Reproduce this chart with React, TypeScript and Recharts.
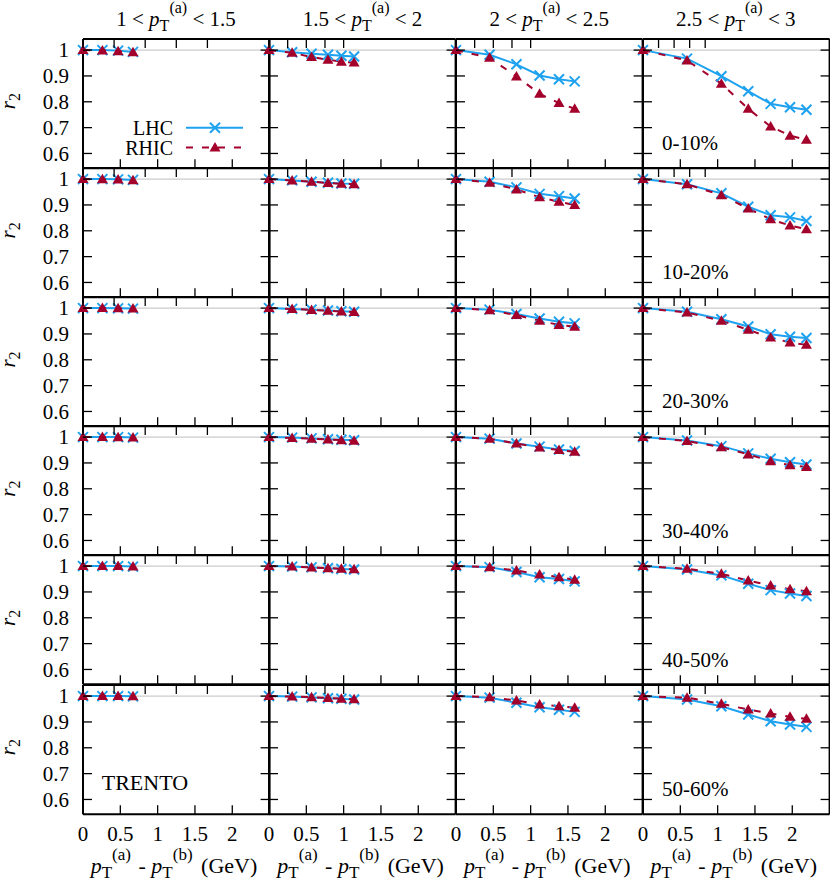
import React from "react";
import { LineChart, Line, XAxis, YAxis, ReferenceLine, Legend } from "recharts";

const PT_BINS = [
  ["1", "1.5"],
  ["1.5", "2"],
  ["2", "2.5"],
  ["2.5", "3"],
];
const CENTRALITY = ["0-10%", "10-20%", "20-30%", "30-40%", "40-50%", "50-60%"];
const X_TICKS = [0, 0.5, 1, 1.5, 2];
const X_TICK_LABELS = ["0", "0.5", "1", "1.5", "2"];
const Y_TICKS = [0.6, 0.7, 0.8, 0.9, 1];
const Y_TICK_LABELS = ["0.6", "0.7", "0.8", "0.9", "1"];

// pT(a) - pT(b) points, one list per pT(a) bin (column)
const DPT = [
  [0, 0.26, 0.47, 0.67],
  [0, 0.31, 0.57, 0.79, 0.97, 1.14],
  [0, 0.45, 0.81, 1.12, 1.38, 1.59],
  [0, 0.59, 1.05, 1.41, 1.71, 1.97, 2.19],
];

const LHC_0_10 = [
  [1, 1, 0.998, 0.993],
  [1, 0.992, 0.986, 0.982, 0.978, 0.975],
  [1, 0.982, 0.945, 0.902, 0.887, 0.879],
  [1, 0.967, 0.899, 0.841, 0.792, 0.779, 0.769],
];
const RHIC_0_10 = [
  [1, 0.998, 0.996, 0.992],
  [1, 0.99, 0.973, 0.963, 0.955, 0.952],
  [1, 0.97, 0.898, 0.831, 0.795, 0.773],
  [1, 0.96, 0.87, 0.773, 0.704, 0.669, 0.653],
];
const LHC_10_20 = [
  [1, 1, 0.999, 0.997],
  [1, 0.995, 0.99, 0.986, 0.983, 0.982],
  [1, 0.99, 0.968, 0.943, 0.934, 0.925],
  [1, 0.98, 0.945, 0.893, 0.86, 0.852, 0.838],
];
const RHIC_10_20 = [
  [1, 0.999, 0.998, 0.996],
  [1, 0.995, 0.99, 0.985, 0.982, 0.98],
  [1, 0.986, 0.96, 0.93, 0.912, 0.9],
  [1, 0.98, 0.938, 0.886, 0.845, 0.82, 0.806],
];
const LHC_20_30 = [
  [1, 1, 0.999, 0.998],
  [1, 0.997, 0.994, 0.991, 0.988, 0.986],
  [1, 0.994, 0.977, 0.96, 0.947, 0.941],
  [1, 0.986, 0.957, 0.929, 0.899, 0.889, 0.884],
];
const RHIC_20_30 = [
  [1, 1, 0.999, 0.998],
  [1, 0.997, 0.993, 0.99, 0.987, 0.985],
  [1, 0.992, 0.973, 0.951, 0.935, 0.928],
  [1, 0.983, 0.951, 0.916, 0.886, 0.867, 0.858],
];
const LHC_30_40 = [
  [1, 1, 1, 0.998],
  [1, 0.998, 0.995, 0.992, 0.99, 0.988],
  [1, 0.994, 0.975, 0.963, 0.952, 0.946],
  [1, 0.987, 0.965, 0.937, 0.916, 0.903, 0.894],
];
const RHIC_30_40 = [
  [1, 1, 0.999, 0.998],
  [1, 0.997, 0.994, 0.991, 0.988, 0.986],
  [1, 0.994, 0.975, 0.96, 0.95, 0.943],
  [1, 0.985, 0.961, 0.933, 0.907, 0.891, 0.884],
];
const LHC_40_50 = [
  [1, 1, 1, 0.998],
  [1, 0.998, 0.995, 0.992, 0.989, 0.987],
  [1, 0.996, 0.977, 0.957, 0.95, 0.941],
  [1, 0.987, 0.964, 0.932, 0.907, 0.894, 0.884],
];
const RHIC_40_50 = [
  [1, 1, 1, 0.998],
  [1, 0.998, 0.995, 0.992, 0.99, 0.988],
  [1, 0.996, 0.983, 0.968, 0.957, 0.947],
  [1, 0.99, 0.97, 0.944, 0.925, 0.91, 0.903],
];
const LHC_50_60 = [
  [1, 1, 1, 0.999],
  [1, 0.998, 0.995, 0.992, 0.99, 0.987],
  [1, 0.994, 0.974, 0.957, 0.947, 0.939],
  [1, 0.987, 0.961, 0.929, 0.903, 0.89, 0.881],
];
const RHIC_50_60 = [
  [1, 1, 1, 0.999],
  [1, 0.998, 0.996, 0.993, 0.99, 0.988],
  [1, 0.996, 0.983, 0.968, 0.961, 0.955],
  [1, 0.994, 0.97, 0.948, 0.933, 0.92, 0.912],
];

const LHC = [LHC_0_10, LHC_10_20, LHC_20_30, LHC_30_40, LHC_40_50, LHC_50_60];
const RHIC = [RHIC_0_10, RHIC_10_20, RHIC_20_30, RHIC_30_40, RHIC_40_50, RHIC_50_60];

const LEFT = 82.7;
const TOP = 38.5;
const PW = 186.6;
const PH = 129.2;
const PAD = 90;
const TICK = 9;
const BLUE = "#1ea2f0";
const RED = "#a3002b";
const FONT = "'Liberation Serif', 'Times New Roman', serif";
const FS = 21;
const SFS = 16;
const Y_DOMAIN = [0.543, 1.043];
const X_DOMAIN = [0, 2.5];

const frame = { stroke: "#000", strokeWidth: 2 };

function crossDot(props: any) {
  const { cx, cy, index } = props;
  if (cx == null || cy == null) return <g key={`c${index}`} />;
  const s = 5;
  return (
    <path
      key={`c${index}`}
      d={`M${cx - s},${cy - s}L${cx + s},${cy + s}M${cx - s},${cy + s}L${cx + s},${cy - s}`}
      stroke={BLUE}
      strokeWidth={2}
      fill="none"
    />
  );
}

function triangleDot(props: any) {
  const { cx, cy, index } = props;
  if (cx == null || cy == null) return <g key={`t${index}`} />;
  return (
    <polygon
      key={`t${index}`}
      points={`${cx - 5.5},${cy + 4} ${cx + 5.5},${cy + 4} ${cx},${cy - 5.5}`}
      fill={RED}
      stroke="none"
    />
  );
}

function LegendBox() {
  return (
    <svg width={160} height={45} style={{ display: "block", overflow: "visible" }}>
      <text x={73} y={20} textAnchor="end" fontFamily={FONT} fontSize={20} fill="#000">
        LHC
      </text>
      <line x1={86} y1={12.7} x2={143} y2={12.7} stroke={BLUE} strokeWidth={2} />
      {crossDot({ cx: 115, cy: 12.7, index: 0 })}
      <text x={73} y={40} textAnchor="end" fontFamily={FONT} fontSize={20} fill="#000">
        RHIC
      </text>
      <line x1={86} y1={32.5} x2={143} y2={32.5} stroke={RED} strokeWidth={2} strokeDasharray="7 9" />
      {triangleDot({ cx: 115, cy: 32.5, index: 0 })}
    </svg>
  );
}

function Panel({ row, col }: { row: number; col: number }) {
  const data = DPT[col].map((x, i) => ({ x, lhc: LHC[row][col][i], rhic: RHIC[row][col][i] }));
  const isBottom = row === CENTRALITY.length - 1;
  const isLeft = col === 0;
  const left = LEFT + col * PW - PAD;
  const top = TOP + row * PH - PAD;

  const bottomTick = (p: any) => {
    const i = X_TICKS.indexOf(p.payload.value);
    return (
      <g key={`b${i}`}>
        <line x1={p.x} y1={p.y} x2={p.x} y2={p.y - TICK} stroke="#000" strokeWidth={1.3} />
        {isBottom && (
          <text x={p.x} y={p.y + 27} textAnchor="middle" fontFamily={FONT} fontSize={FS} fill="#000">
            {X_TICK_LABELS[i]}
          </text>
        )}
      </g>
    );
  };
  const topTick = (p: any) => (
    <line key={`t${p.index}`} x1={p.x} y1={p.y} x2={p.x} y2={p.y + TICK} stroke="#000" strokeWidth={1.3} />
  );
  const leftTick = (p: any) => {
    const i = Y_TICKS.indexOf(p.payload.value);
    return (
      <g key={`l${i}`}>
        <line x1={p.x} y1={p.y} x2={p.x + TICK} y2={p.y} stroke="#000" strokeWidth={1.3} />
        {isLeft && (
          <text x={p.x - 14} y={p.y} dy="0.34em" textAnchor="end" fontFamily={FONT} fontSize={FS} fill="#000">
            {Y_TICK_LABELS[i]}
          </text>
        )}
      </g>
    );
  };
  const rightTick = (p: any) => (
    <line key={`r${p.index}`} x1={p.x} y1={p.y} x2={p.x - TICK} y2={p.y} stroke="#000" strokeWidth={1.3} />
  );

  // axes take 1px each, so margins are PAD - 1 to keep the plot box in place
  return (
    <div style={{ position: "absolute", left, top }}>
      <LineChart
        width={PW + 2 * PAD}
        height={PH + 2 * PAD}
        data={data}
        margin={{ top: PAD - 1, right: PAD - 1, bottom: PAD - 1, left: PAD - 1 }}
      >
        <XAxis
          xAxisId="b"
          dataKey="x"
          type="number"
          domain={X_DOMAIN}
          ticks={X_TICKS}
          interval={0}
          height={1}
          tickSize={0}
          tickMargin={0}
          tickLine={false}
          axisLine={frame}
          tick={bottomTick}
        />
        <XAxis
          xAxisId="t"
          orientation="top"
          type="number"
          domain={X_DOMAIN}
          allowDataOverflow
          ticks={X_TICKS}
          interval={0}
          height={1}
          tickSize={0}
          tickMargin={0}
          tickLine={false}
          axisLine={frame}
          tick={topTick}
        />
        <YAxis
          yAxisId="l"
          type="number"
          domain={Y_DOMAIN}
          ticks={Y_TICKS}
          interval={0}
          width={1}
          tickSize={0}
          tickMargin={0}
          tickLine={false}
          axisLine={frame}
          tick={leftTick}
        />
        <YAxis
          yAxisId="r"
          orientation="right"
          type="number"
          domain={Y_DOMAIN}
          allowDataOverflow
          ticks={Y_TICKS}
          interval={0}
          width={1}
          tickSize={0}
          tickMargin={0}
          tickLine={false}
          axisLine={frame}
          tick={rightTick}
        />
        <ReferenceLine xAxisId="b" yAxisId="l" y={1} stroke="#cccccc" strokeWidth={1.3} />
        <Line
          xAxisId="b"
          yAxisId="l"
          type="linear"
          dataKey="lhc"
          name="LHC"
          stroke={BLUE}
          strokeWidth={2}
          dot={crossDot}
          activeDot={false}
          isAnimationActive={false}
        />
        <Line
          xAxisId="b"
          yAxisId="l"
          type="linear"
          dataKey="rhic"
          name="RHIC"
          stroke={RED}
          strokeWidth={2}
          strokeDasharray="7 9"
          dot={triangleDot}
          activeDot={false}
          isAnimationActive={false}
        />
        {row === 0 && col === 0 && (
          <Legend
            layout="vertical"
            align="center"
            verticalAlign="middle"
            wrapperStyle={{ left: 100 - left, top: 115 - top, width: 160, height: 45 }}
            content={() => <LegendBox />}
          />
        )}
      </LineChart>
    </div>
  );
}

function PtLabel({ which, size }: { which: string; size: number }) {
  return (
    <>
      <tspan fontStyle="italic">p</tspan>
      <tspan fontSize={size} dy={5}>T</tspan>
      <tspan fontSize={size} dy={-18.5}>({which})</tspan>
    </>
  );
}

function Labels() {
  return (
    <svg
      width={830}
      height={886}
      style={{ position: "absolute", left: 0, top: 0, pointerEvents: "none" }}
      fontFamily={FONT}
      fontSize={FS}
      fill="#000"
    >
      {PT_BINS.map(([lo, hi], c) => (
        <text key={`h${c}`} x={LEFT + c * PW + PW / 2} y={26} textAnchor="middle">
          {lo} &lt; <PtLabel which="a" size={SFS} />
          <tspan dy={13.5}> &lt; {hi}</tspan>
        </text>
      ))}
      {PT_BINS.map((_, c) => (
        <text key={`xt${c}`} x={LEFT + c * PW + PW / 2 - 2} y={873} textAnchor="middle" fontSize={22}>
          <PtLabel which="a" size={17} />
          <tspan dy={13.5} dx={2}> - </tspan>
          <PtLabel which="b" size={17} />
          <tspan dy={13.5} dx={3}> (GeV)</tspan>
        </text>
      ))}
      {CENTRALITY.map((label, r) => {
        const cy = TOP + r * PH + PH / 2 - 2;
        return (
          <g key={`r${r}`}>
            <text x={15} y={cy} transform={`rotate(-90 15 ${cy})`} textAnchor="middle">
              <tspan fontStyle="italic">r</tspan>
              <tspan fontSize={SFS} dy={5}>2</tspan>
            </text>
            <text x={LEFT + 3 * PW + 19.4} y={TOP + r * PH + 111.5}>
              {label}
            </text>
          </g>
        );
      })}
      <text x={LEFT + 19} y={TOP + 5 * PH + 105.5} fontSize={22}>
        TRENTO
      </text>
    </svg>
  );
}

export default function App() {
  const cells = [];
  for (let r = 0; r < CENTRALITY.length; r++) {
    for (let c = 0; c < PT_BINS.length; c++) {
      cells.push(<Panel key={`${r}-${c}`} row={r} col={c} />);
    }
  }
  return (
    <div style={{ position: "absolute", left: 0, top: 0, width: 830, height: 886, overflow: "hidden", background: "#fff" }}>
      {cells}
      <Labels />
    </div>
  );
}
